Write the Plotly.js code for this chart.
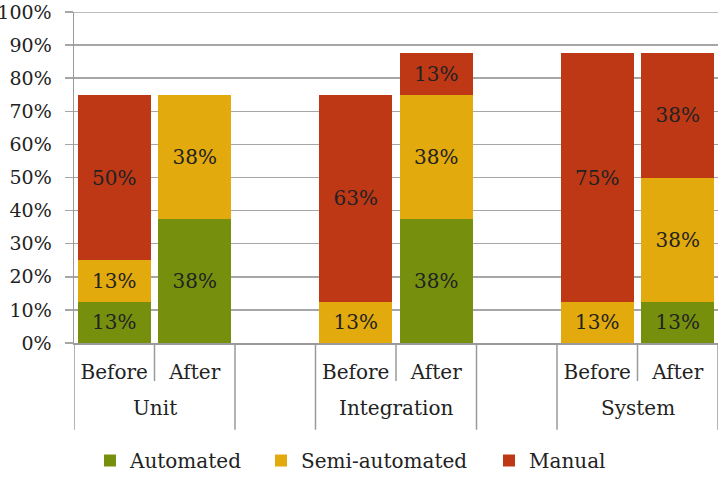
<!DOCTYPE html>
<html>
<head>
<meta charset="utf-8">
<script src="https://cdn.plot.ly/plotly-3.0.1.min.js"></script>
<style>html,body{margin:0;padding:0;background:#fff;}#chart{width:726px;height:488px;}</style>
</head>
<body>
<div id="chart"></div>
<script>
// Data
var groups = ["Unit", "Integration", "System"];
var phases = ["Before", "After"];
// order: Unit Before, Unit After, Integration Before, Integration After, System Before, System After
var automated = [12.5, 37.5, 0, 37.5, 0, 12.5];
var semiAutomated = [12.5, 37.5, 12.5, 37.5, 12.5, 37.5];
var manual = [50, 0, 62.5, 12.5, 75, 37.5];
var seriesNames = ["Automated", "Semi-automated", "Manual"];
var seriesColors = ["#76900E", "#E2AA0C", "#BF3816"];
var yTicks = [0, 10, 20, 30, 40, 50, 60, 70, 80, 90, 100];

var FONT = "'DejaVu Serif', serif";
var FS = 20;
var legendKeys = ["legend", "legend2", "legend3"];
var legendX = [0.0248, 0.2904, 0.6444];
var slotsPerGroup = phases.length + 1;
var xs = [], tickText = [];
groups.forEach(function (g, gi) {
  phases.forEach(function (p, pi) {
    xs.push(gi * slotsPerGroup + pi);
    tickText.push(p);
  });
});
function labels(arr) { return arr.map(function (v) { return v > 0 ? Math.round(v) + "%" : ""; }); }

var values = [automated, semiAutomated, manual];
var traces = values.map(function (vals, i) {
  return {
    type: "bar", name: seriesNames[i], x: xs, y: vals, legend: legendKeys[i],
    marker: { color: seriesColors[i], line: { width: 0 } },
    text: labels(vals), textposition: "inside", insidetextanchor: "middle",
    constraintext: "none", textangle: 0,
    textfont: { family: FONT, size: FS, color: "#222" },
    hoverinfo: "skip"
  };
});

var shapes = [], annotations = [];
var lineStyle = { color: "#9a9a9a", width: 1.5 };
var gridColor = "#a6a6a6";
var yMax = yTicks[yTicks.length - 1];
// top gridline (Plotly drops gridlines sitting exactly on the range edge)
shapes.push({ type: "line", xref: "paper", yref: "y", x0: 0, x1: 1, y0: yMax, y1: yMax,
  line: { color: gridColor, width: 1.5 }, layer: "below" });
var lastSlot = groups.length * slotsPerGroup - 2;
groups.forEach(function (g, gi) {
  var start = gi * slotsPerGroup - 0.5;
  var end = start + phases.length;
  [start, end].forEach(function (xv) {
    shapes.push({ type: "line", xref: "x", yref: "paper", x0: xv, x1: xv, y0: 0, y1: -0.262, line: lineStyle });
  });
  for (var k = 1; k < phases.length; k++) {
    shapes.push({ type: "line", xref: "x", yref: "paper", x0: start + k, x1: start + k, y0: 0, y1: -0.115, line: lineStyle });
  }
  annotations.push({ xref: "x", yref: "paper", x: (start + end) / 2, y: -0.195, yanchor: "middle",
    text: g, showarrow: false, font: { family: FONT, size: FS, color: "#222" } });
});

var layout = {
  width: 726, height: 488,
  margin: { l: 74, r: 8, t: 12, b: 142 },
  barmode: "stack", bargap: 0.09,
  paper_bgcolor: "#fff", plot_bgcolor: "#fff",
  font: { family: FONT, size: FS, color: "#222" },
  showlegend: true,
  xaxis: {
    range: [-0.5, lastSlot + 0.5], tickvals: xs, ticktext: tickText,
    showgrid: false, zeroline: false, showline: true, linecolor: "#9a9a9a", linewidth: 1.5,
    ticks: "", tickfont: { family: FONT, size: FS, color: "#222" }, ticklabelstandoff: 10, fixedrange: true
  },
  yaxis: {
    range: [0, yMax], tickmode: "array", tickvals: yTicks, ticktext: yTicks.map(function (t) { return t + "%"; }),
    showgrid: true, gridcolor: gridColor, gridwidth: 1.5,
    showline: true, linecolor: "#9a9a9a", linewidth: 1.5,
    ticks: "outside", ticklen: 8, tickcolor: gridColor, tickwidth: 1.5, ticklabelstandoff: 9,
    ticklabeloverflow: "allow",
    zeroline: false, tickfont: { family: FONT, size: 19, color: "#222" }, fixedrange: true
  },
  shapes: shapes, annotations: annotations
};
legendKeys.forEach(function (k, i) {
  layout[k] = { orientation: "h", x: legendX[i], xanchor: "left", y: -0.355, yanchor: "middle",
    font: { family: FONT, size: FS, color: "#222" }, itemwidth: 30, bgcolor: "rgba(0,0,0,0)" };
});

Plotly.newPlot("chart", traces, layout, { displayModeBar: false, staticPlot: true });
</script>
</body>
</html>
